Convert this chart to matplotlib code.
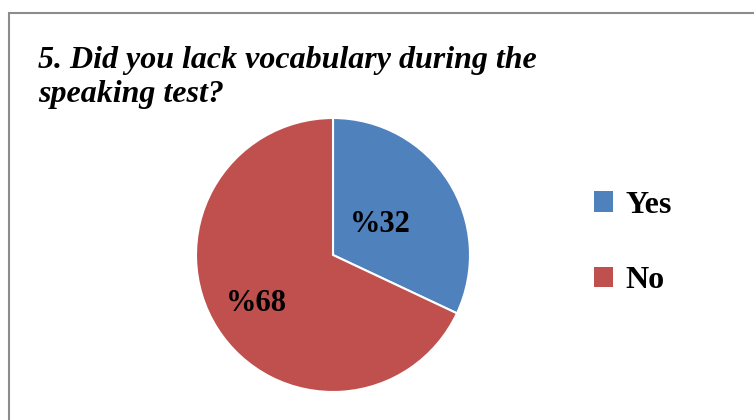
import matplotlib.pyplot as plt
import numpy as np
from matplotlib.patches import Rectangle

# data
labels = ['Yes', 'No']
values = [32, 68]
colors = ['#4F81BD', '#C0504D']
title_lines = ['5. Did you lack vocabulary during the', 'speaking test?']

W, H = 754, 420
fig = plt.figure(figsize=(W / 100, H / 100), dpi=100)

# outer frame of the chart area
fig.patches.append(Rectangle((9 / W, -0.1), 1.2, (H - 13) / H + 0.1,
                             transform=fig.transFigure, fill=False,
                             edgecolor='#8c8c8c', linewidth=1.5))

# title
for i, line in enumerate(title_lines):
    fig.text(38 / W, 1 - (68 + 34 * i) / H, line, fontsize=23,
             family='Liberation Serif', weight='bold', style='italic',
             va='baseline', ha='left')

# pie
cx, cy, r = 333, 255, 137
ax = fig.add_axes([(cx - r - 2) / W, (H - cy - r - 2) / H, (2 * r + 4) / W, (2 * r + 4) / H])
wedges, _ = ax.pie(values, colors=colors, startangle=90, counterclock=False,
                   wedgeprops=dict(edgecolor='white', linewidth=1.5))
lim = (r + 2) / r
ax.set_xlim(-lim, lim)
ax.set_ylim(-lim, lim)
ax.set_aspect('equal')

label_dist = [0.41, 0.66]
for w, v, d in zip(wedges, values, label_dist):
    ang = np.deg2rad((w.theta1 + w.theta2) / 2)
    ax.text(d * np.cos(ang), d * np.sin(ang), f'%{v}', ha='center', va='center',
            fontsize=22, family='Liberation Serif', weight='bold')

leg = fig.legend(wedges, labels, loc='upper left', bbox_to_anchor=(565 / W, 1 - 162 / H),
                 frameon=False, handlelength=0.6, handleheight=0.6,
                 handletextpad=0.4, labelspacing=1.45,
                 prop=dict(family='Liberation Serif', weight='bold', size=23))
for h in leg.legend_handles:
    h.set_edgecolor('none')

fig.savefig('out.png', dpi=100)
